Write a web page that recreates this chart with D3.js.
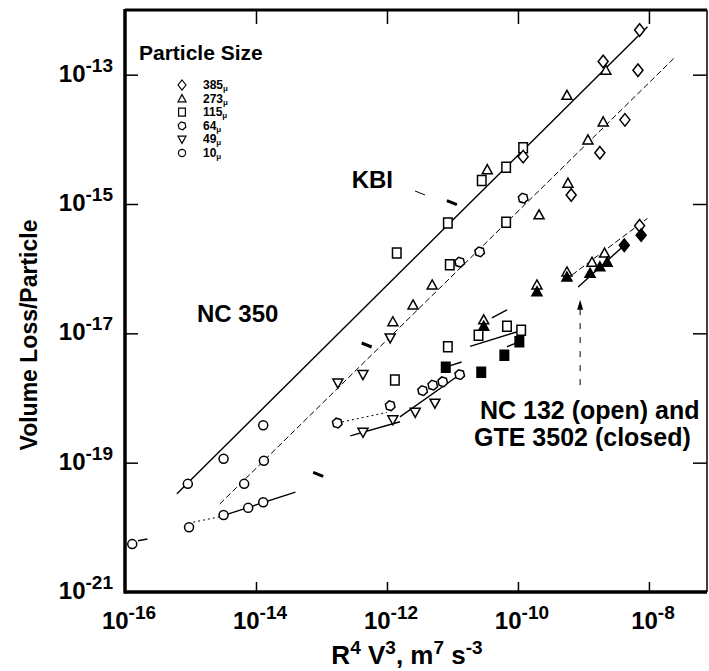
<!DOCTYPE html>
<html>
<head>
<meta charset="utf-8">
<script src="https://cdn.jsdelivr.net/npm/d3@7"></script>
<style>
body { margin: 0; background: #fff; }
text { font-family: "Liberation Sans", Arial, sans-serif; font-weight: bold; fill: #000; }
</style>
</head>
<body>
<div id="chart"></div>
<script>
// axis ticks
var xTicks = [1e-16, 1e-14, 1e-12, 1e-10, 1e-8];
var yTicks = [1e-21, 1e-19, 1e-17, 1e-15, 1e-13];

// particle sizes (legend order)
var sizes = ["385", "273", "115", "64", "49", "10"];

// [x, y, size]  KBI
var kbi = [
	[9.1e-16, 4.7e-20, "10"], [3.2e-15, 1.15e-19, "10"], [1.29e-14, 3.8e-19, "10"],
	[1.41e-12, 1.74e-16, "115"], [8.5e-12, 5.1e-16, "115"], [2.8e-11, 2.3e-15, "115"],
	[3.4e-11, 3.4e-15, "273"], [6.6e-11, 3.7e-15, "115"], [1.2e-10, 7.4e-15, "115"],
	[1.2e-10, 5.4e-15, "385"], [5.6e-10, 4.8e-14, "273"], [2.0e-9, 1.6e-13, "385"],
	[2.2e-9, 1.17e-13, "273"], [7.2e-9, 4.9e-13, "385"]
];

// NC 350
var nc350 = [
	[6.6e-15, 4.7e-20, "10"], [1.32e-14, 1.07e-19, "10"],
	[1.78e-13, 1.7e-18, "49"], [4.3e-13, 2.3e-18, "49"], [1.12e-12, 8.5e-18, "49"],
	[1.23e-12, 1.51e-17, "273"], [2.5e-12, 2.75e-17, "273"], [4.9e-12, 5.6e-17, "273"],
	[9.1e-12, 1.15e-16, "115"], [1.29e-11, 1.26e-16, "64"], [2.6e-11, 1.82e-16, "64"],
	[6.6e-11, 5.2e-16, "115"], [1.2e-10, 1.23e-15, "64"], [2.1e-10, 6.8e-16, "273"],
	[5.8e-10, 2.1e-15, "273"], [6.5e-10, 1.38e-15, "385"], [1.17e-9, 9.8e-15, "273"],
	[1.78e-9, 6.2e-15, "385"], [2.0e-9, 1.86e-14, "273"], [4.3e-9, 2.0e-14, "385"],
	[6.8e-9, 1.17e-13, "385"]
];

// NC 132 (open)
var nc132 = [
	[1.29e-16, 5.5e-21, "10"], [9.5e-16, 1.0e-20, "10"], [3.2e-15, 1.55e-20, "10"],
	[7.6e-15, 2.0e-20, "10"], [1.29e-14, 2.45e-20, "10"],
	[1.74e-13, 4.1e-19, "64"], [1.12e-12, 7.6e-19, "64"], [3.5e-12, 1.3e-18, "64"],
	[5.0e-12, 1.58e-18, "64"], [7.1e-12, 1.78e-18, "64"], [1.29e-11, 2.3e-18, "64"],
	[4.3e-13, 2.95e-19, "49"], [1.23e-12, 4.6e-19, "49"], [2.7e-12, 6.0e-19, "49"],
	[5.4e-12, 8.3e-19, "49"],
	[1.32e-12, 1.9e-18, "115"], [8.5e-12, 6.2e-18, "115"], [2.5e-11, 9.3e-18, "115"],
	[6.8e-11, 1.29e-17, "115"], [1.12e-10, 1.12e-17, "115"],
	[3.0e-11, 1.62e-17, "273"], [1.95e-10, 5.6e-17, "273"], [5.6e-10, 8.9e-17, "273"],
	[1.35e-9, 1.26e-16, "273"], [2.1e-9, 1.74e-16, "273"],
	[7.2e-9, 4.6e-16, "385"]
];

// GTE 3502 (closed)
var gte3502 = [
	[7.9e-12, 3.0e-18, "115"], [2.75e-11, 2.5e-18, "115"], [6.2e-11, 4.6e-18, "115"],
	[1.05e-10, 7.4e-18, "115"],
	[3.0e-11, 1.29e-17, "273"], [1.95e-10, 4.4e-17, "273"], [5.6e-10, 7.4e-17, "273"],
	[1.26e-9, 8.5e-17, "273"], [1.78e-9, 1.07e-16, "273"], [2.3e-9, 1.26e-16, "273"],
	[4.2e-9, 2.3e-16, "385"], [7.6e-9, 3.3e-16, "385"]
];

// fitted lines [x1, y1, x2, y2, style]
var fitLines = [
	[6.2e-16, 3.3e-20, 9.5e-9, 5.5e-13, "solid"],
	[2.8e-15, 2.3e-20, 2.5e-8, 1.86e-13, "dash"],
	[1.1e-15, 1.2e-20, 2.75e-15, 1.45e-20, "dot"],
	[2.75e-15, 1.45e-20, 4.0e-14, 3.5e-20, "solid"],
	[1.58e-16, 6.2e-21, 2.2e-16, 6.6e-21, "solid"],
	[1.74e-13, 4.1e-19, 1.0e-12, 6.0e-19, "dot"],
	[2.75e-13, 2.6e-19, 1.58e-12, 4.3e-19, "solid"],
	[1.58e-12, 5.1e-19, 1.45e-11, 2.5e-18, "solid"],
	[1.86e-11, 6.3e-18, 9.5e-11, 1.05e-17, "solid"],
	[4.0e-11, 1.74e-17, 6.8e-11, 2.3e-17, "solid"],
	[5.2e-10, 6.6e-17, 9.5e-9, 6.0e-16, "dash"],
	[8.3e-10, 5.2e-17, 4.6e-9, 2.5e-16, "solid"],
	[6.8e-11, 6.2e-18, 1.05e-10, 7.4e-18, "solid"],
	[7.9e-12, 3.0e-18, 1.38e-11, 3.6e-18, "solid"]
];

// label pointers [x, y, weight]
var pointers = [[9.8e-12, 1.05e-15, 3], [3.2e-12, 1.48e-15, 1], [4.9e-13, 6.6e-18, 3], [8.9e-14, 6.6e-20, 3]];
// arrow under the NC 132 points [x, yFrom, yTo]
var arrow = [8.9e-10, 1.58e-18, 3.3e-17];

var W = 709, H = 671;
var svg = d3.select("#chart").append("svg").attr("width", W).attr("height", H);

var x = d3.scaleLog().domain([1e-16, 7.7e-8]).range([125, 707]);
var y = d3.scaleLog().domain([1e-21, 1e-12]).range([592, 10]);

function expOf(v) { return Math.round(Math.log10(v)); }

// frame
svg.append("line").attr("x1", 125).attr("y1", 10).attr("x2", 707).attr("y2", 10).attr("stroke", "#000").attr("stroke-width", 3);
svg.append("line").attr("x1", 707).attr("y1", 10).attr("x2", 707).attr("y2", 592).attr("stroke", "#000").attr("stroke-width", 1.5);
svg.append("line").attr("x1", 125).attr("y1", 9).attr("x2", 125).attr("y2", 593.5).attr("stroke", "#000").attr("stroke-width", 3.5);
svg.append("line").attr("x1", 124).attr("y1", 592).attr("x2", 707).attr("y2", 592).attr("stroke", "#000").attr("stroke-width", 3.5);

// ticks via d3 axes
var axB = svg.append("g").attr("transform", "translate(0,592)")
	.call(d3.axisBottom(x).tickValues(xTicks.slice(1)).tickSizeInner(-10).tickSizeOuter(0).tickFormat(""));
var axT = svg.append("g").attr("transform", "translate(0,10)")
	.call(d3.axisTop(x).tickValues(xTicks.slice(1)).tickSizeInner(-14).tickSizeOuter(0).tickFormat(""));
var axL = svg.append("g").attr("transform", "translate(125,0)")
	.call(d3.axisLeft(y).tickValues(yTicks.slice(1)).tickSizeInner(-13).tickSizeOuter(0).tickFormat(""));
var axR = svg.append("g").attr("transform", "translate(707,0)")
	.call(d3.axisRight(y).tickValues(yTicks.slice(1)).tickSizeInner(-14).tickSizeOuter(0).tickFormat(""));
[axB, axT, axL, axR].forEach(function(a) {
	a.select(".domain").remove();
	a.selectAll("line").attr("stroke", "#000").attr("stroke-width", 1.5);
});

// tick labels
xTicks.forEach(function(v) {
	var t = svg.append("text").attr("x", x(v) + 4).attr("y", 629).attr("text-anchor", "middle").attr("font-size", 24);
	t.append("tspan").text("10");
	t.append("tspan").attr("dy", -10).attr("font-size", 19).text("-" + (-expOf(v)));
});
yTicks.forEach(function(v) {
	var t = svg.append("text").attr("x", 113).attr("y", y(v) + 7).attr("text-anchor", "end").attr("font-size", 24);
	t.append("tspan").text("10");
	t.append("tspan").attr("dy", -10).attr("font-size", 19).text("-" + (-expOf(v)));
});

// axis titles
var xt = svg.append("text").attr("x", 407).attr("y", 664).attr("text-anchor", "middle").attr("font-size", 26);
xt.append("tspan").text("R");
xt.append("tspan").attr("dy", -10).attr("font-size", 19).text("4");
xt.append("tspan").attr("dy", 10).text(" V");
xt.append("tspan").attr("dy", -10).attr("font-size", 19).text("3");
xt.append("tspan").attr("dy", 10).text(", m");
xt.append("tspan").attr("dy", -10).attr("font-size", 19).text("7");
xt.append("tspan").attr("dy", 10).text(" s");
xt.append("tspan").attr("dy", -10).attr("font-size", 19).text("-3");

svg.append("text").attr("transform", "translate(37,335) rotate(-90)").attr("text-anchor", "middle")
	.attr("font-size", 23).text("Volume Loss/Particle");

// symbols
function symPath(s, r) {
	var p = d3.path();
	if (s === "385") {
		p.moveTo(0, -r * 1.25); p.lineTo(r, 0); p.lineTo(0, r * 1.25); p.lineTo(-r, 0); p.closePath();
	} else if (s === "273") {
		p.moveTo(0, -r); p.lineTo(r, r * 0.8); p.lineTo(-r, r * 0.8); p.closePath();
	} else if (s === "49") {
		p.moveTo(0, r); p.lineTo(r, -r * 0.8); p.lineTo(-r, -r * 0.8); p.closePath();
	} else if (s === "115") {
		p.rect(-r * 0.85, -r, r * 1.7, r * 2);
	} else if (s === "64") {
		for (var k = 0; k < 6; k++) {
			var a = Math.PI / 3 * k + 0.3;
			if (k === 0) p.moveTo(r * Math.cos(a), r * Math.sin(a));
			else p.lineTo(r * Math.cos(a), r * Math.sin(a));
		}
		p.closePath();
	} else {
		p.arc(0, 0, r * 0.9, 0, 2 * Math.PI);
	}
	return p.toString();
}

// fitted lines
var dashes = { solid: null, dash: "6,3", dot: "2,3" };
svg.append("g").selectAll("line").data(fitLines).enter().append("line")
	.attr("x1", function(d) { return x(d[0]); }).attr("y1", function(d) { return y(d[1]); })
	.attr("x2", function(d) { return x(d[2]); }).attr("y2", function(d) { return y(d[3]); })
	.attr("stroke", "#000").attr("stroke-width", function(d) { return d[4] === "solid" ? 1.4 : 1; })
	.attr("stroke-dasharray", function(d) { return dashes[d[4]]; });

// points
function drawPoints(data, filled) {
	svg.append("g").selectAll("path").data(data).enter().append("path")
		.attr("transform", function(d) { return "translate(" + x(d[0]) + "," + y(d[1]) + ")"; })
		.attr("d", function(d) { return symPath(d[2], 5); })
		.attr("fill", filled ? "#000" : "#fff").attr("stroke", "#000").attr("stroke-width", 1.5);
}
drawPoints(kbi, false);
drawPoints(nc350, false);
drawPoints(nc132, false);
drawPoints(gte3502, true);

// pointers
svg.append("g").selectAll("line").data(pointers).enter().append("line")
	.attr("x1", function(d) { return x(d[0]) - 5; }).attr("y1", function(d) { return y(d[1]) - 2; })
	.attr("x2", function(d) { return x(d[0]) + 5; }).attr("y2", function(d) { return y(d[1]) + 2; })
	.attr("stroke", "#000").attr("stroke-width", function(d) { return d[2]; });

// arrow
svg.append("line").attr("x1", x(arrow[0])).attr("y1", y(arrow[1])).attr("x2", x(arrow[0])).attr("y2", y(arrow[2]) + 6)
	.attr("stroke", "#000").attr("stroke-width", 1).attr("stroke-dasharray", "6,8");
svg.append("path").attr("d", "M" + x(arrow[0]) + "," + y(arrow[2]) + "l-3,10l6,0z").attr("fill", "#000");

// labels
svg.append("text").attr("x", 393).attr("y", 188).attr("text-anchor", "end").attr("font-size", 24).text("KBI");
svg.append("text").attr("x", 197).attr("y", 322).attr("font-size", 24).text("NC 350");
svg.append("text").attr("x", 480).attr("y", 419).attr("font-size", 25).text("NC 132 (open) and");
svg.append("text").attr("x", 474).attr("y", 446).attr("font-size", 25).text("GTE 3502 (closed)");

// legend
svg.append("text").attr("x", 139).attr("y", 60).attr("font-size", 21).text("Particle Size");
var lg = svg.append("g").selectAll("g").data(sizes).enter().append("g")
	.attr("transform", function(d, i) { return "translate(182," + (85 + i * 13.6) + ")"; });
lg.append("path").attr("d", function(d) { return symPath(d, 4); })
	.attr("fill", "#fff").attr("stroke", "#000").attr("stroke-width", 1.2);
var lt = lg.append("text").attr("x", 21).attr("y", 4).attr("font-size", 12);
lt.append("tspan").text(function(d) { return d; });
lt.append("tspan").attr("font-size", 8).attr("dy", 2).text("\u03bc");
</script>
</body>
</html>
